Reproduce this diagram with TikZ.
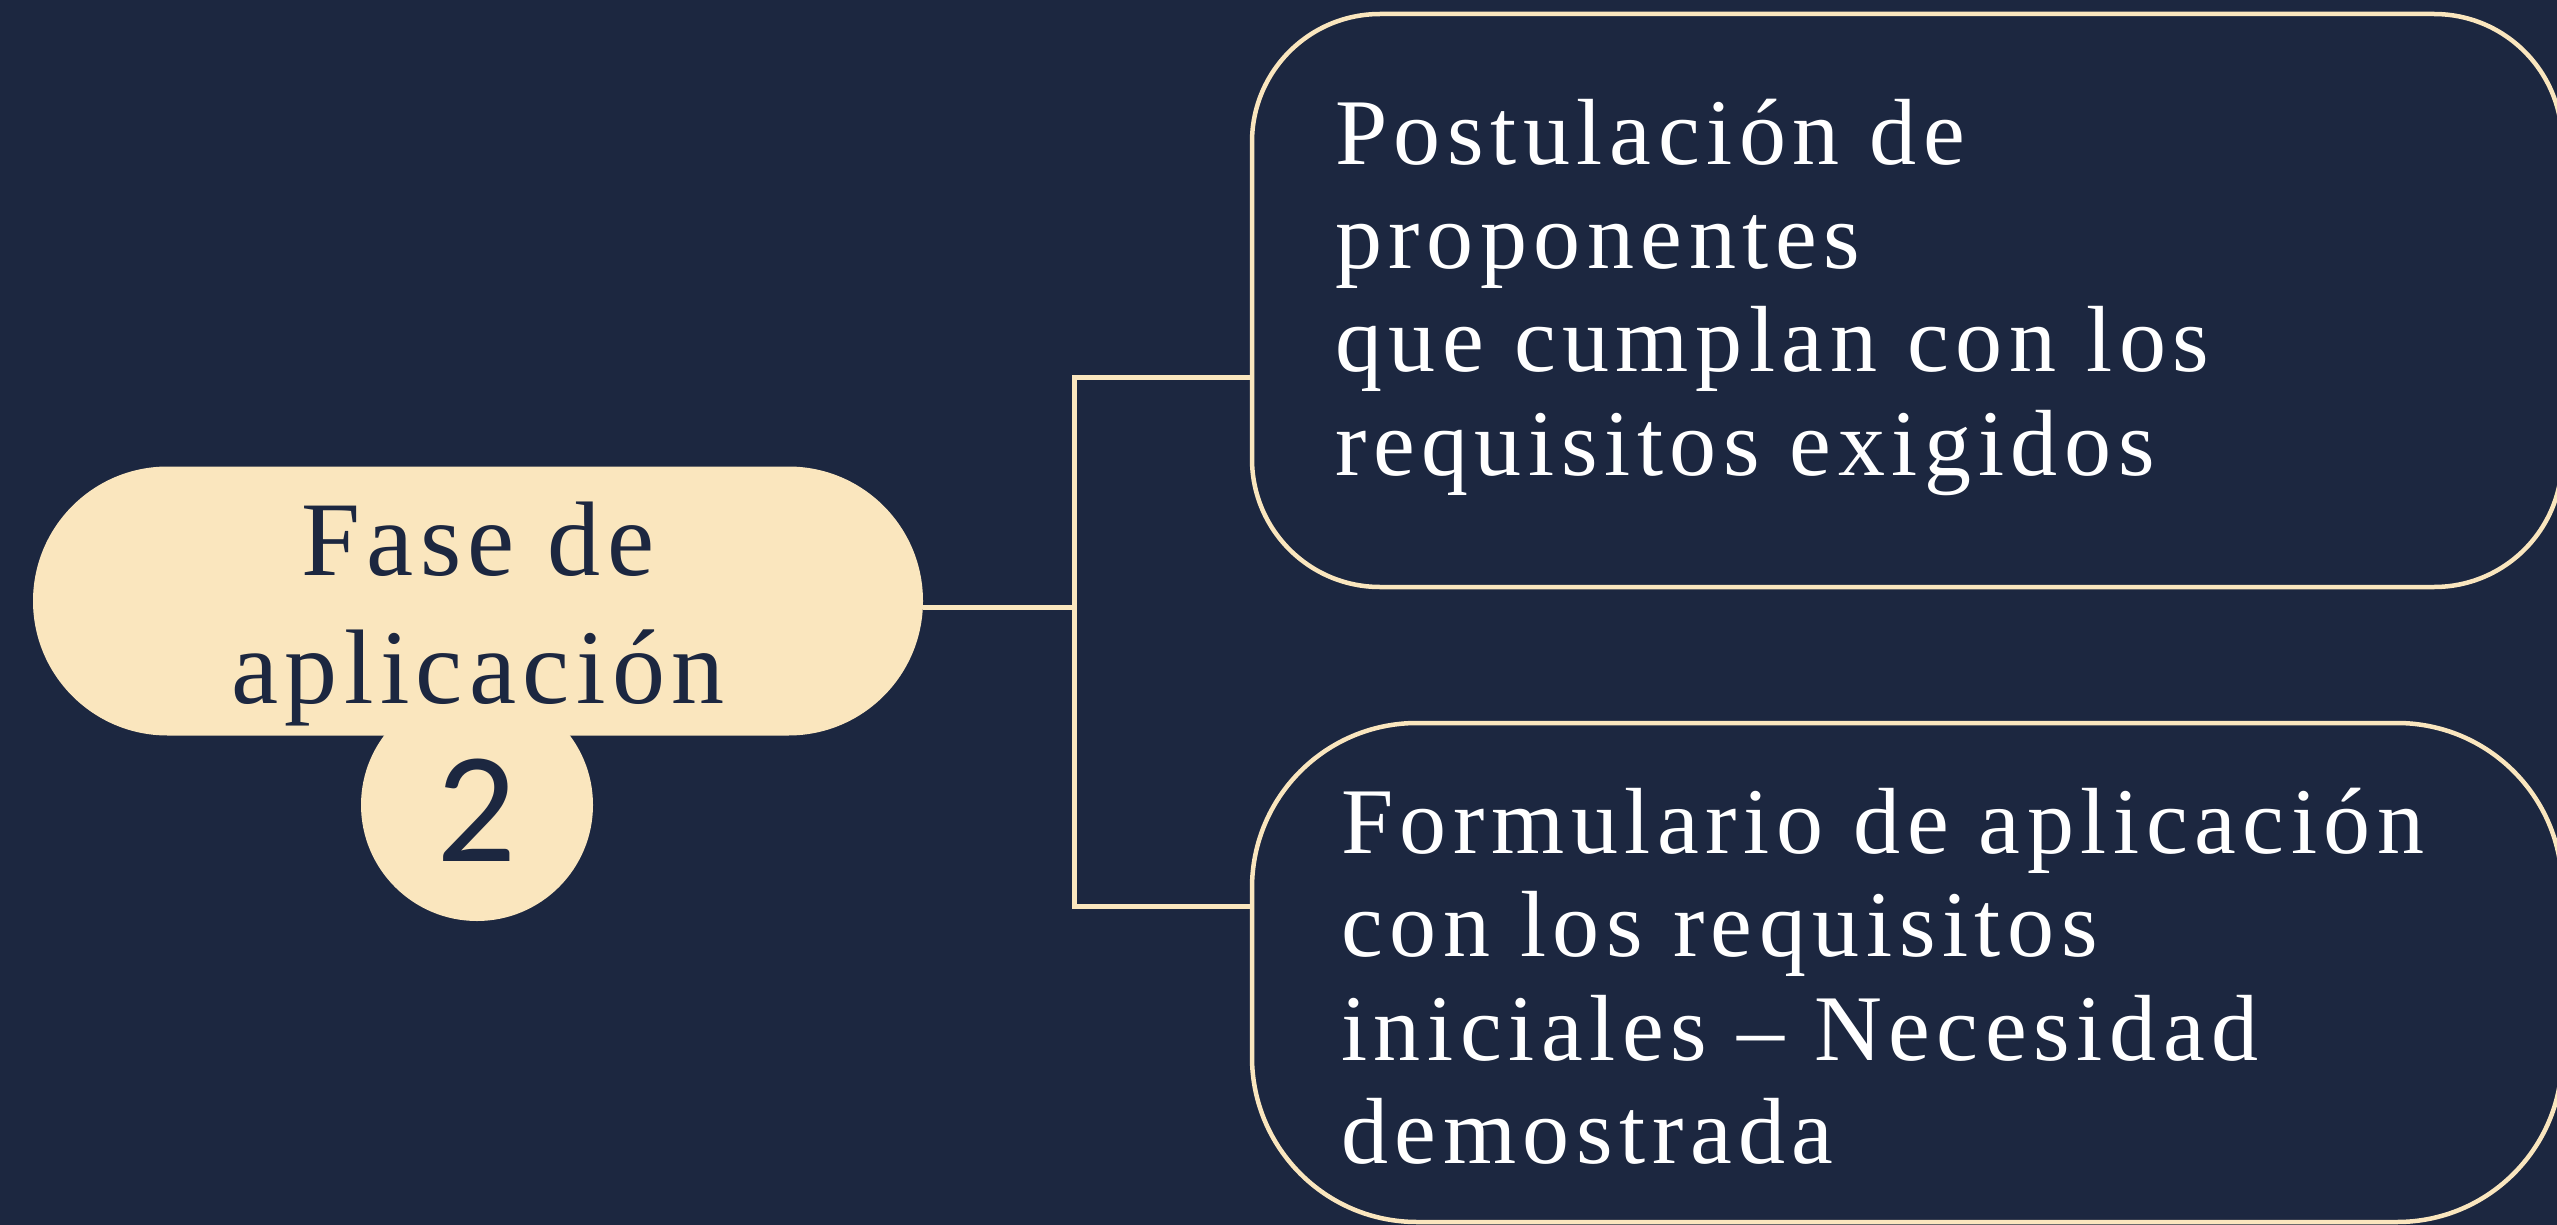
\documentclass[tikz,border=0pt]{standalone}
\usepackage{fontspec}
\setmainfont{Liberation Serif}
\newfontfamily\numfont{Carlito}
\definecolor{bg}{HTML}{1C2740}
\definecolor{cream}{HTML}{FAE6BE}
\begin{document}
\begin{tikzpicture}[x=1pt,y=-1pt,
  pill/.style={rectangle, fill=cream, minimum width=890pt, minimum height=269pt, rounded corners=134.5pt, inner sep=0pt},
  badge/.style={circle, fill=cream, minimum size=232pt, inner sep=0pt},
  card/.style={rectangle, draw=cream, line width=4.5pt, rounded corners=#1, inner sep=0pt},
  conn/.style={draw=cream, line width=5pt},
  boxtext/.style={anchor=base west, inner sep=0pt, text=white,
    font=\fontsize{94}{103.5}\selectfont\addfontfeatures{LetterSpace=7}},
  pilltext/.style={anchor=base, inner sep=0pt, text=bg,
    font=\fontsize{106}{128}\selectfont\addfontfeatures{LetterSpace=6}},
  numtext/.style={anchor=base, inner sep=0pt, text=bg,
    font=\numfont\fontsize{158}{158}\selectfont}
]
\fill[bg] (0,0) rectangle (2557,1225);
\useasboundingbox (0,0) rectangle (2557,1225);

% nodes
\node[badge] (num) at (477,805) {};
\node[pill] (fase) at (478,601) {};
\node[pilltext] (fasetxt) at (478,575) {\parbox[t]{850pt}{\centering Fase de\\aplicación}};
\node[numtext] (numtxt) at (477,861) {2};

\node[card=128pt, minimum width=1310pt, minimum height=573pt] (top) at (1907,300.5) {};
\node[card=165pt, minimum width=1310pt, minimum height=499pt] (bot) at (1907,972.5) {};

\node[boxtext] (toptxt) at (1335,165) {\parbox[t]{1200pt}{Postulación de\\proponentes\\que cumplan con los\\requisitos exigidos}};
\node[boxtext] (bottxt) at (1341,853) {\parbox[t]{1200pt}{Formulario de aplicación\\con los requisitos\\iniciales – Necesidad\\demostrada}};

% connectors
\coordinate (j) at (1074,607);
\coordinate (jt) at (1074,377.5);
\coordinate (jb) at (1074,906);
\draw[conn] (fase.east |- j) -- (j);
\draw[conn, line cap=rect] (jt) -- (jb);
\draw[conn] (jt) -- (jt -| top.west);
\draw[conn] (jb) -- (jb -| bot.west);
\end{tikzpicture}
\end{document}
